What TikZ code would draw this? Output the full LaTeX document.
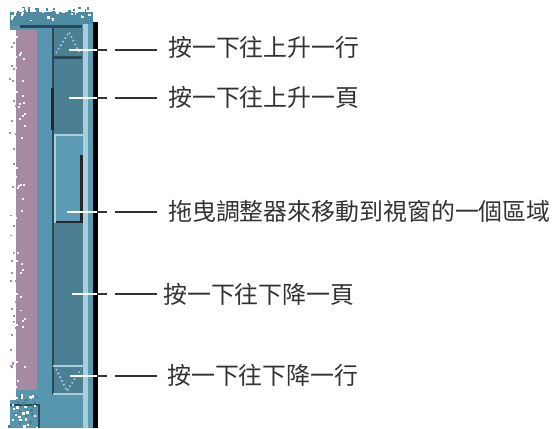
\documentclass[tikz,border=0pt]{standalone}
\usepackage{fontspec}
\newfontfamily\cjk{Noto Sans CJK TC}
\definecolor{frameteal}{HTML}{5796AE}
\definecolor{chan}{HTML}{4A7F94}
\definecolor{thumbc}{HTML}{5B9BB3}
\definecolor{pinkc}{HTML}{A68AA3}
\definecolor{lightc}{HTML}{A9CFDC}
\definecolor{darkc}{HTML}{264A5A}
\definecolor{topbar}{HTML}{4E8BA3}
\begin{document}
\begin{tikzpicture}[x=1pt,y=-1pt,
  lbl/.style={anchor=west,inner sep=0pt,font=\cjk\fontsize{23.9}{24}\selectfont,text=black!80},
  whiteline/.style={draw=white,line width=2pt},
  blackdash/.style={draw=black!80,line width=2.2pt},
  dots/.style={draw=lightc,line width=1.6pt,dash pattern=on 1.6pt off 2.6pt}]
\useasboundingbox (0,0) rectangle (553,428);
% outer frame
\fill[frameteal] (10,20) rectangle (93,428);
\fill[topbar] (10,12) rectangle (93,26);
\fill[darkc] (20,25) rectangle (82,28);
% pink strip
\fill[pinkc] (16,30) rectangle (37,390);
\fill[white] (10,30) rectangle (16,400);
\pgfmathsetseed{7}
\foreach \i in {1,...,160}{
  \pgfmathsetmacro\xx{9+rnd*15}
  \pgfmathsetmacro\yy{30+rnd*365}
  \pgfmathsetmacro\cc{rnd}
  \ifdim\cc pt<0.5pt
    \fill[white] (\xx,\yy) rectangle ++(2,2);
  \else
    \fill[pinkc] (\xx,\yy) rectangle ++(2,2);
  \fi
}
% top noisy edge
\foreach \i in {1,...,70}{
  \pgfmathsetmacro\xx{10+rnd*82}
  \pgfmathsetmacro\yy{5+rnd*14}
  \pgfmathsetmacro\cc{rnd}
  \ifdim\cc pt<0.5pt
    \fill[white] (\xx,\yy) rectangle ++(2.5,2.5);
  \else
    \fill[topbar] (\xx,\yy) rectangle ++(2.5,2.5);
  \fi
}
% channel
\fill[chan] (54,28) rectangle (83,395);
\fill[darkc] (52,28) rectangle (54,395);
\fill[black!85] (51,88) rectangle (54,130);
% right stripes
\fill[lightc] (83,24) rectangle (88,428);
\fill[thumbc] (88,24) rectangle (93,428);
\fill[black] (93,22) rectangle (97.5,428);
% top arrow button
\fill[darkc] (52,56) rectangle (82,58.5);
\draw[dots] (56,53) -- (69,32) -- (79,52);
% thumb
\fill[thumbc] (54,134) rectangle (83,223);
\fill[lightc] (54,134) rectangle (83,136);
\fill[lightc] (54,134) rectangle (56,223);
\fill[black!85] (80,155) rectangle (82.5,223);
\fill[black!85] (56,220.5) rectangle (82.5,223);
% bottom arrow button
\fill[lightc] (53,364.5) rectangle (83,366.5);
\fill[lightc] (53,392.5) rectangle (83,394.5);
\draw[dots] (56,369) -- (67,391) -- (81,369);
% bottom left box
\fill[darkc] (10,403.5) rectangle (40,406);
\fill[darkc] (37.5,403.5) rectangle (40,428);
\foreach \i in {1,...,40}{
  \pgfmathsetmacro\xx{8+rnd*28}
  \pgfmathsetmacro\yy{395+rnd*33}
  \pgfmathsetmacro\cc{rnd}
  \ifdim\cc pt<0.55pt
    \fill[white] (\xx,\yy) rectangle ++(2.5,2.5);
  \else
    \fill[chan] (\xx,\yy) rectangle ++(2.5,2.5);
  \fi
}
% coordinates
\foreach \k/\px/\yy in {1/69/50, 2/69/98, 3/67/212, 4/72/294, 5/70/376}{
  \coordinate (p\k) at (\px,\yy);
  \coordinate (e\k) at (97,\yy);
  \coordinate (m\k) at (107,\yy);
  \coordinate (n\k) at (115,\yy);
  \coordinate (f\k) at (157,\yy);
}
% labels
\node[lbl] (l1) at (168,47) {按一下往上升一行};
\node[lbl] (l2) at (168,97) {按一下往上升一頁};
\node[lbl] (l3) at (168,211) {拖曳調整器來移動到視窗的一個區域};
\node[lbl] (l4) at (163,294) {按一下往下降一頁};
\node[lbl] (l5) at (167,375) {按一下往下降一行};
% connectors
\foreach \k in {1,...,5}{
  \draw[whiteline] (p\k) -- (e\k);
  \draw[blackdash] (e\k) -- (m\k);
  \draw[blackdash] (n\k) -- (f\k);
}
\end{tikzpicture}
\end{document}
